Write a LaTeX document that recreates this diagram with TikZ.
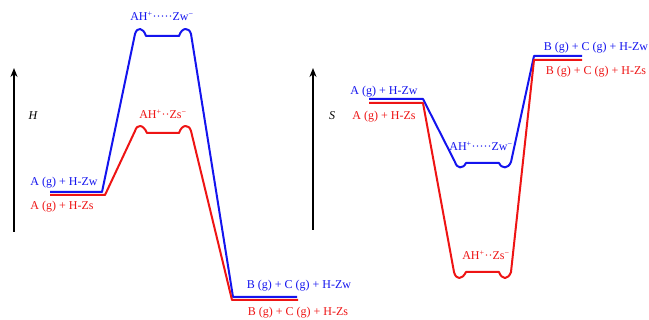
\documentclass[tikz,border=0pt]{standalone}
\usepackage{fontspec}
\setmainfont{Liberation Serif}
\usepackage{xcolor}
\usepackage{tikz}
\usetikzlibrary{arrows.meta, positioning}
\definecolor{zwblue}{HTML}{1414EE}
\definecolor{zsred}{HTML}{EE1414}
\tikzset{
  lvlzw/.style={draw=zwblue,line width=2pt,line join=round},
  lvlzs/.style={draw=zsred,line width=2pt,line join=round},
  lblzw/.style={text=zwblue,inner sep=0pt,font=\fontsize{12}{14}\selectfont},
  lblzs/.style={text=zsred,inner sep=0pt,font=\fontsize{12}{14}\selectfont},
  axarrow/.style={-{Stealth[length=9pt,width=7pt]},line width=1.6pt,black},
  axlbl/.style={inner sep=0pt,font=\fontsize{12}{14}\selectfont\itshape},
}

\begin{document}
\begin{tikzpicture}[x=1pt,y=-1pt]
  \useasboundingbox (0,0) rectangle (649,320);
  % enthalpy panel
  \coordinate (hlo) at (14,232);
  \coordinate (hhi) at (14,68);
  \draw[axarrow] (hlo) -- (hhi);
  \node[axlbl] (hH) at (33,116) {H};
  \draw[lvlzw] (50,192) -- (102,192) -- (135,34)
    .. controls (137,27) and (143,27) .. (146,36) -- (179,36)
    .. controls (182,27) and (189,27) .. (191,34) -- (233,297) -- (297,297);
  \draw[lvlzs] (50,195) -- (105,195) -- (135,131)
    .. controls (137,124) and (143,124) .. (147,133) -- (179,133)
    .. controls (182,124) and (189,124) .. (191,131) -- (232,300) -- (298,300);
  \node[lblzw] (hzwts) at (162,16) {AH\textsuperscript{+}·····Zw\textsuperscript{−}};
  \node[lblzs] (hzsts) at (163,114) {AH\textsuperscript{+}··Zs\textsuperscript{−}};
  \node[lblzw] (hzwa) at (64,183) {A (g) + H-Zw};
  \node[lblzs] (hzsa) at (62,207) {A (g) + H-Zs};
  \node[lblzw] (hzwb) at (299,286) {B (g) + C (g) + H-Zw};
  \node[lblzs] (hzsb) at (298,313) {B (g) + C (g) + H-Zs};
  % entropy panel
  \coordinate (slo) at (313,230);
  \coordinate (shi) at (313,68);
  \draw[axarrow] (slo) -- (shi);
  \node[axlbl] (sS) at (332,116) {S};
  \draw[lvlzw] (369,99) -- (423,99) -- (455,162)
    .. controls (457,169) and (463,169) .. (466,163) -- (499,163)
    .. controls (502,169) and (508,169) .. (511,162) -- (534,56) -- (582,56);
  \draw[lvlzs] (369,103) -- (423,103) -- (454,272)
    .. controls (456,280) and (462,280) .. (466,272) -- (499,272)
    .. controls (502,280) and (508,280) .. (511,272) -- (534,60) -- (582,60);
  \node[lblzw] (szwts) at (481,146) {AH\textsuperscript{+}·····Zw\textsuperscript{−}};
  \node[lblzs] (szsts) at (486,255) {AH\textsuperscript{+}··Zs\textsuperscript{−}};
  \node[lblzw] (szwa) at (384,92) {A (g) + H-Zw};
  \node[lblzs] (szsa) at (384,117) {A (g) + H-Zs};
  \node[lblzw] (szwb) at (596,48) {B (g) + C (g) + H-Zw};
  \node[lblzs] (szsb) at (596,72) {B (g) + C (g) + H-Zs};
\end{tikzpicture}
\end{document}
